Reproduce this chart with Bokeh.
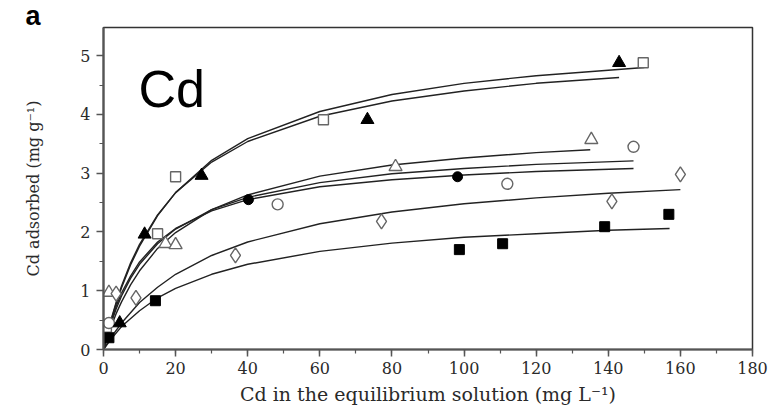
from bokeh.plotting import figure
from bokeh.models import Range1d, Label, FixedTicker
from bokeh.embed import file_html
from bokeh.resources import INLINE

# ---- data ----
x_ticks = [0, 20, 40, 60, 80, 100, 120, 140, 160, 180]
y_ticks = [0, 1, 2, 3, 4, 5]

tri_filled_x = [4.5, 11.4, 27.2, 73.2, 143.0]
tri_filled_y = [0.45, 1.96, 2.96, 3.91, 4.88]
sq_open_x = [0.8, 15.0, 20.0, 61.0, 149.7]
sq_open_y = [0.38, 1.97, 2.94, 3.91, 4.88]
tri_open_x = [1.5, 17.2, 20.0, 81.0, 135.3]
tri_open_y = [0.97, 1.80, 1.78, 3.11, 3.57]
circ_filled_x = [40.2, 98.2]
circ_filled_y = [2.55, 2.94]
circ_open_x = [1.5, 48.3, 112.0, 147.0]
circ_open_y = [0.45, 2.47, 2.82, 3.45]
diamond_x = [3.5, 9.0, 36.6, 77.1, 141.0, 160.0]
diamond_y = [0.95, 0.88, 1.60, 2.18, 2.52, 2.98]
sq_filled_x = [1.5, 14.4, 98.7, 110.7, 139.0, 156.8]
sq_filled_y = [0.20, 0.83, 1.70, 1.80, 2.09, 2.30]

fit_sq_open_x = [0, 1, 2, 3.5, 5, 7.5, 10, 15, 20, 30, 40, 60, 80, 100, 120, 150]
fit_sq_open_y = [0, 0.25, 0.47, 0.78, 1.05, 1.44, 1.76, 2.28, 2.67, 3.22, 3.59, 4.05, 4.34, 4.53, 4.66, 4.80]
fit_tri_filled_x = [0, 1, 2, 3.5, 5, 7.5, 10, 15, 20, 30, 40, 60, 80, 100, 120, 143]
fit_tri_filled_y = [0, 0.26, 0.49, 0.80, 1.08, 1.47, 1.79, 2.29, 2.67, 3.19, 3.54, 3.97, 4.23, 4.40, 4.53, 4.63]
fit_tri_open_x = [0, 1, 2, 3.5, 5, 7.5, 10, 15, 20, 30, 40, 60, 80, 100, 120, 135]
fit_tri_open_y = [0, 0.19, 0.37, 0.61, 0.81, 1.10, 1.34, 1.72, 1.99, 2.38, 2.63, 2.95, 3.14, 3.26, 3.35, 3.40]
fit_circ_open_x = [0, 1, 2, 3.5, 5, 7.5, 10, 15, 20, 30, 40, 60, 80, 100, 120, 147]
fit_circ_open_y = [0, 0.23, 0.43, 0.69, 0.91, 1.21, 1.45, 1.80, 2.05, 2.38, 2.59, 2.84, 2.99, 3.08, 3.15, 3.21]
fit_circ_filled_x = [0, 1, 2, 3.5, 5, 7.5, 10, 15, 20, 30, 40, 60, 80, 100, 120, 147]
fit_circ_filled_y = [0, 0.25, 0.46, 0.73, 0.96, 1.25, 1.49, 1.83, 2.06, 2.36, 2.55, 2.77, 2.89, 2.97, 3.03, 3.08]
fit_diamond_x = [0, 2, 5, 10, 15, 20, 30, 40, 60, 80, 100, 120, 140, 160]
fit_diamond_y = [0, 0.20, 0.45, 0.80, 1.06, 1.28, 1.60, 1.83, 2.14, 2.34, 2.48, 2.58, 2.66, 2.72]
fit_sq_filled_x = [0, 2, 5, 10, 15, 20, 30, 40, 60, 80, 100, 120, 140, 157]
fit_sq_filled_y = [0, 0.17, 0.39, 0.66, 0.88, 1.04, 1.28, 1.45, 1.67, 1.81, 1.91, 1.97, 2.03, 2.06]

SERIF = "DejaVu Serif"
TXT = "#2a2a2a"

p = figure(width=771, height=409, output_backend="svg", toolbar_location=None,
           x_range=Range1d(0, 180), y_range=Range1d(0, 5.48),
           title="a",
           min_border_left=103, min_border_right=19, min_border_top=27, min_border_bottom=60)
p.title.align = "left"
p.title.offset = -78
p.title.standoff = -6
p.title.text_font = "Liberation Sans"
p.title.text_font_style = "bold"
p.title.text_font_size = "27px"
p.title.text_color = "black"

p.background_fill_color = "white"
p.border_fill_color = "white"
p.outline_line_color = "#333333"
p.outline_line_width = 1.5
p.xgrid.visible = False
p.ygrid.visible = False

for ax in (p.xaxis[0], p.yaxis[0]):
    ax.axis_line_color = "#555555"
    ax.axis_line_width = 2.2
    ax.major_tick_line_color = "#555555"
    ax.minor_tick_line_color = "#555555"
    ax.major_tick_line_width = 1.5
    ax.minor_tick_line_width = 1.2
    ax.major_tick_in = 0
    ax.minor_tick_in = 0
    ax.major_tick_out = 7
    ax.minor_tick_out = 4
    ax.major_label_text_font = SERIF
    ax.major_label_text_font_size = "16px"
    ax.major_label_text_color = TXT
    ax.axis_label_text_font = SERIF
    ax.axis_label_text_font_style = "normal"
    ax.axis_label_text_color = TXT

p.xaxis.ticker = FixedTicker(ticks=x_ticks, minor_ticks=list(range(0, 181, 10)))
p.yaxis.ticker = FixedTicker(ticks=y_ticks, minor_ticks=[v / 2 for v in range(0, 11)])
p.xaxis.major_label_standoff = 5
p.yaxis.major_label_standoff = 6
p.xaxis.axis_label = "Cd in the equilibrium solution (mg L\u207b\u00b9)"
p.xaxis.axis_label_text_font_size = "19px"
p.xaxis.axis_label_standoff = 6
p.yaxis.axis_label = "Cd adsorbed (mg g\u207b\u00b9)"
p.yaxis.axis_label_text_font_size = "16px"
p.yaxis.axis_label_standoff = 34

LC = "#222222"
LW = 1.4
for fx, fy in [(fit_sq_open_x, fit_sq_open_y), (fit_tri_filled_x, fit_tri_filled_y),
               (fit_tri_open_x, fit_tri_open_y), (fit_circ_open_x, fit_circ_open_y),
               (fit_circ_filled_x, fit_circ_filled_y), (fit_diamond_x, fit_diamond_y),
               (fit_sq_filled_x, fit_sq_filled_y)]:
    p.line(fx, fy, line_color=LC, line_width=LW)

OPEN = "#666666"
p.scatter(sq_open_x, sq_open_y, marker="square", size=10, fill_color="white", line_color=OPEN, line_width=1.4)
p.scatter(tri_open_x, tri_open_y, marker="triangle", size=13, fill_color="white", line_color=OPEN, line_width=1.4)
p.scatter(circ_open_x, circ_open_y, marker="circle", size=11, fill_color="white", line_color=OPEN, line_width=1.4)
p.scatter(diamond_x, diamond_y, marker="diamond", size=15, fill_color="white", line_color=OPEN, line_width=1.4)
p.scatter(tri_filled_x, tri_filled_y, marker="triangle", size=13, fill_color="black", line_color="black")
p.scatter(circ_filled_x, circ_filled_y, marker="circle", size=10, fill_color="black", line_color="black")
p.scatter(sq_filled_x, sq_filled_y, marker="square", size=10, fill_color="black", line_color="black")

p.add_layout(Label(x=9.7, y=4.44, text="Cd", text_font="Liberation Sans",
                   text_font_size="52px", text_color="black", text_baseline="alphabetic"))

open("out.html", "w").write(file_html(p, INLINE))
